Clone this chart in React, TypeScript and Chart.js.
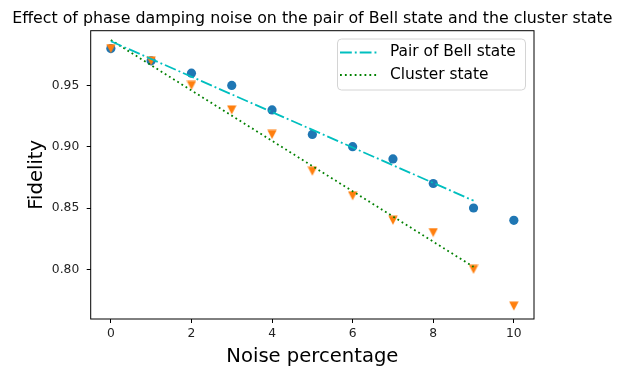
import React, { useEffect, useRef } from "react";
import { Chart, registerables } from "chart.js";

Chart.register(...registerables);

const noisePercent = [0, 1, 2, 3, 4, 5, 6, 7, 8, 9, 10];
const bellFidelity = [0.98, 0.97, 0.96, 0.95, 0.93, 0.91, 0.9, 0.89, 0.87, 0.85, 0.84];
const clusterFidelity = [0.98, 0.97, 0.95, 0.93, 0.91, 0.88, 0.86, 0.84, 0.83, 0.8, 0.77];
const fitX = [0, 9];
const bellFit = [0.986, 0.856];
const clusterFit = [0.987, 0.802];
const xTicks = [0, 2, 4, 6, 8, 10];
const yTicks = [0.8, 0.85, 0.9, 0.95];

const titleText = "Effect of phase damping noise on the pair of Bell state and the cluster state";
const xLabel = "Noise percentage";
const yLabel = "Fidelity";
const legendLabels = ["Pair of Bell state", "Cluster state"];

const FONT = "'DejaVu Sans', sans-serif";
const BLUE = "#1f77b4";
const ORANGE = "#ff7f0e";
const CYAN = "#00bfbf";
const GREEN = "#008000";

const toPts = (xs: number[], ys: number[]) => xs.map((x, i) => ({ x, y: ys[i] }));

function makeTriangleDown(): HTMLCanvasElement {
  const c = document.createElement("canvas");
  c.width = 10;
  c.height = 10;
  const g = c.getContext("2d")!;
  g.fillStyle = ORANGE;
  g.beginPath();
  g.moveTo(0.3, 0.6);
  g.lineTo(9.7, 0.6);
  g.lineTo(5, 9.4);
  g.closePath();
  g.fill();
  return c;
}

const framePlugin = {
  id: "frameAndLegend",
  afterDraw(chart: any) {
    const { ctx, chartArea: a } = chart;
    ctx.save();
    ctx.strokeStyle = "#000";
    ctx.lineWidth = 1;
    ctx.strokeRect(a.left, a.top, a.right - a.left, a.bottom - a.top);

    // title
    ctx.fillStyle = "#000";
    ctx.font = `15.8px ${FONT}`;
    ctx.textAlign = "center";
    ctx.textBaseline = "alphabetic";
    ctx.fillText(titleText, (a.left + a.right) / 2, 23.3);

    // legend box
    const bx = 337.5, by = 39, bw = 188, bh = 51, r = 4;
    ctx.beginPath();
    ctx.moveTo(bx + r, by);
    ctx.lineTo(bx + bw - r, by);
    ctx.arcTo(bx + bw, by, bx + bw, by + r, r);
    ctx.lineTo(bx + bw, by + bh - r);
    ctx.arcTo(bx + bw, by + bh, bx + bw - r, by + bh, r);
    ctx.lineTo(bx + r, by + bh);
    ctx.arcTo(bx, by + bh, bx, by + bh - r, r);
    ctx.lineTo(bx, by + r);
    ctx.arcTo(bx, by, bx + r, by, r);
    ctx.closePath();
    ctx.fillStyle = "rgba(255,255,255,0.8)";
    ctx.fill();
    ctx.strokeStyle = "#d4d4d4";
    ctx.lineWidth = 1;
    ctx.stroke();

    const rows = [
      { y: 52.5, color: CYAN, dash: [11.8, 3, 1.9, 3], label: legendLabels[0] },
      { y: 75, color: GREEN, dash: [1.8, 3.1], label: legendLabels[1] },
    ];
    rows.forEach((row) => {
      ctx.beginPath();
      ctx.setLineDash(row.dash);
      ctx.strokeStyle = row.color;
      ctx.lineWidth = 1.8;
      ctx.moveTo(340, row.y);
      ctx.lineTo(377, row.y);
      ctx.stroke();
      ctx.setLineDash([]);
      ctx.fillStyle = "#000";
      ctx.font = `15.4px ${FONT}`;
      ctx.textBaseline = "middle";
      ctx.textAlign = "left";
      ctx.fillText(row.label, 390, row.y - 0.5);
    });
    ctx.restore();
  },
};

export default function App() {
  const ref = useRef<HTMLCanvasElement | null>(null);
  useEffect(() => {
    if (!ref.current) return;
    const tri = makeTriangleDown();
    const chart = new Chart(ref.current, {
      type: "scatter",
      data: {
        datasets: [
          {
            type: "line",
            label: legendLabels[0],
            data: toPts(fitX, bellFit),
            borderColor: CYAN,
            borderWidth: 1.8,
            borderDash: [11.8, 3, 1.9, 3],
            pointRadius: 0,
            fill: false,
          },
          {
            type: "line",
            label: legendLabels[1],
            data: toPts(fitX, clusterFit),
            borderColor: GREEN,
            borderWidth: 1.8,
            borderDash: [1.8, 3.1],
            pointRadius: 0,
            fill: false,
          },
          {
            type: "scatter",
            label: "cluster points",
            data: toPts(noisePercent, clusterFidelity),
            backgroundColor: ORANGE,
            borderColor: ORANGE,
            borderWidth: 0,
            pointStyle: tri as any,
            pointRadius: 5,
          },
          {
            type: "scatter",
            label: "bell points",
            data: toPts(noisePercent, bellFidelity),
            backgroundColor: BLUE,
            borderColor: BLUE,
            borderWidth: 0,
            pointStyle: "circle",
            pointRadius: 4.6,
          },
        ],
      },
      options: {
        responsive: false,
        animation: false,
        layout: { padding: { left: 0, right: 91, top: 30.7, bottom: 0 } },
        plugins: {
          legend: { display: false },
          tooltip: { enabled: false },
          title: { display: false },
        },
        scales: {
          x: {
            type: "linear",
            min: -0.5,
            max: 10.5,
            afterFit: (s: any) => {
              s.height = 59;
            },
            afterBuildTicks: (s: any) => {
              s.ticks = xTicks.map((v) => ({ value: v }));
            },
            grid: { display: true, drawOnChartArea: false, drawTicks: true, tickLength: 4, tickColor: "#000", tickWidth: 1 },
            border: { display: false },
            ticks: {
              color: "#222",
              font: { family: FONT, size: 12.3 },
              padding: 3.5,
              maxRotation: 0,
              callback: (v: any) => String(v),
            },
            title: {
              display: true,
              text: xLabel,
              color: "#000",
              font: { family: FONT, size: 19.6 },
              padding: { top: 0, bottom: 9.5 },
            },
          },
          y: {
            type: "linear",
            min: 0.7595,
            max: 0.9946,
            afterFit: (s: any) => {
              s.width = 90.7;
            },
            afterBuildTicks: (s: any) => {
              s.ticks = yTicks.map((v) => ({ value: v }));
            },
            grid: { display: true, drawOnChartArea: false, drawTicks: true, tickLength: 4, tickColor: "#000", tickWidth: 1 },
            border: { display: false },
            ticks: {
              color: "#222",
              font: { family: FONT, size: 12.3 },
              padding: 7.5,
              callback: (v: any) => Number(v).toFixed(2),
            },
            title: {
              display: true,
              text: yLabel,
              color: "#000",
              font: { family: FONT, size: 19.6 },
              padding: { top: 25, bottom: 0 },
            },
          },
        },
      },
      plugins: [framePlugin],
    });
    return () => chart.destroy();
  }, []);
  return (
    <div style={{ position: "absolute", left: 0, top: 0, width: 625, height: 378, background: "#fff" }}>
      <canvas ref={ref} width={625} height={378} />
    </div>
  );
}
